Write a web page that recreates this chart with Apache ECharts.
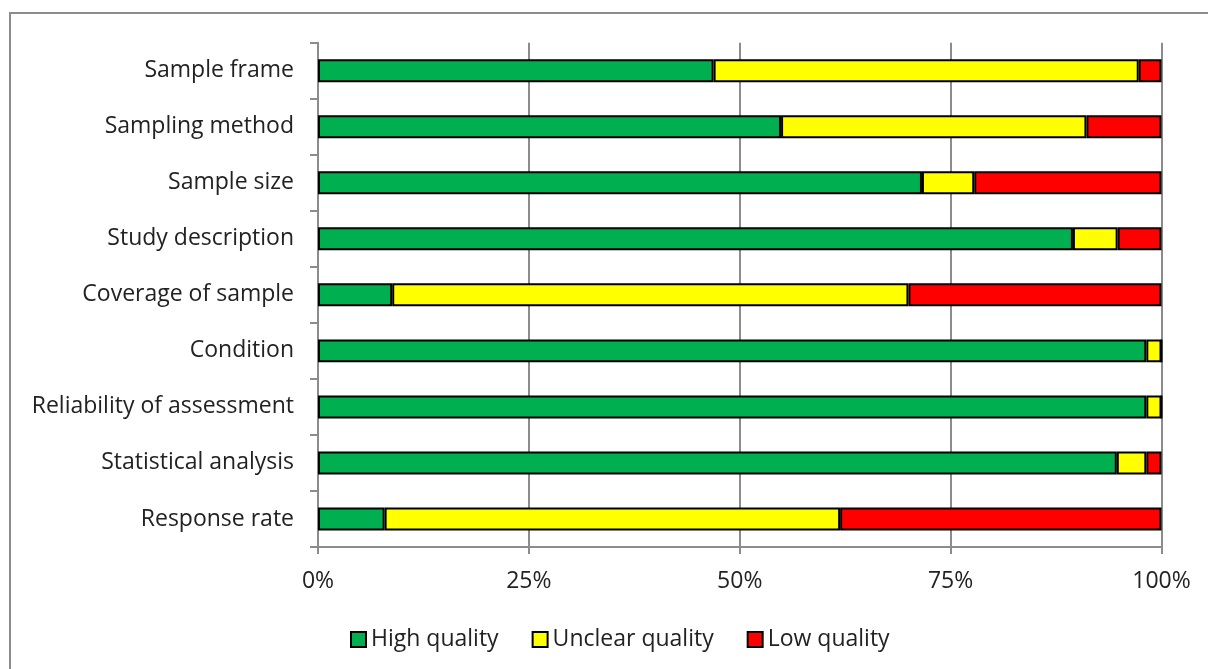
<!DOCTYPE html>
<html>
<head>
<meta charset="utf-8">
<script src="https://cdn.jsdelivr.net/npm/echarts@6/dist/echarts.min.js"></script>
<style>
html,body{margin:0;padding:0;background:#fff;}
#chart{width:1208px;height:669px;}
</style>
</head>
<body>
<div id="chart"></div>
<script>
var categories = ["Sample frame","Sampling method","Sample size","Study description","Coverage of sample","Condition","Reliability of assessment","Statistical analysis","Response rate"];
var seriesNames = ["High quality","Unclear quality","Low quality"];
var highQuality    = [46.9, 54.9, 71.6, 89.5,  8.8, 98.2, 98.2, 94.7,  7.9];
var unclearQuality = [50.4, 36.2,  6.2,  5.3, 61.2,  1.8,  1.8,  3.5, 54.0];
var lowQuality     = [ 2.7,  8.9, 22.2,  5.2, 30.0,  0.0,  0.0,  1.8, 38.1];
var xTicks = [0, 25, 50, 75, 100];

var colors = ["#00B050", "#FFFF00", "#FF0000"];
var dataSets = [highQuality, unclearQuality, lowQuality];
var fontFam = "'Open Sans', sans-serif";

var chart = echarts.init(document.getElementById('chart'), null, {renderer:'canvas'});
var series = seriesNames.map(function(n, i){
  return {
    name: n, type: 'bar', stack: 'total', barWidth: '41%',
    data: dataSets[i],
    itemStyle: {color: colors[i], borderColor: '#000', borderWidth: 2},
    emphasis: {disabled: true}
  };
});
chart.setOption({
  animation: false,
  backgroundColor: '#fff',
  graphic: [{
    type: 'rect', shape: {x: 10, y: 13, width: 1300, height: 800},
    style: {fill: 'none', stroke: '#8c8c8c', lineWidth: 2}, silent: true, z: -10
  }],
  grid: {left: 318, right: 46.5, top: 42.7, bottom: 122, containLabel: false},
  legend: {
    data: seriesNames, left: 345, top: 623, icon: 'rect',
    itemWidth: 15, itemHeight: 15, itemGap: 33,
    textStyle: {fontFamily: fontFam, fontSize: 23, color: '#222'},
    itemStyle: {borderColor: '#000', borderWidth: 2}
  },
  xAxis: {
    type: 'value', min: 0, max: 100, interval: 25,
    axisLabel: {formatter: function(v){ return xTicks.indexOf(v) >= 0 ? v + '%' : ''; }, fontFamily: fontFam, fontSize: 23, color: '#222', margin: 23},
    axisLine: {show: true, lineStyle: {color: '#8c8c8c', width: 2}},
    axisTick: {show: true, length: 7, lineStyle: {color: '#8c8c8c', width: 2}},
    splitLine: {show: true, lineStyle: {color: '#8c8c8c', width: 2}}
  },
  yAxis: {
    type: 'category', data: categories, inverse: true,
    axisLabel: {fontFamily: fontFam, fontSize: 23, color: '#222', margin: 24},
    axisLine: {show: true, lineStyle: {color: '#8c8c8c', width: 2}},
    axisTick: {show: true, length: 8, alignWithLabel: false, lineStyle: {color: '#8c8c8c', width: 2}},
    splitLine: {show: false}
  },
  series: series
});
</script>
</body>
</html>
